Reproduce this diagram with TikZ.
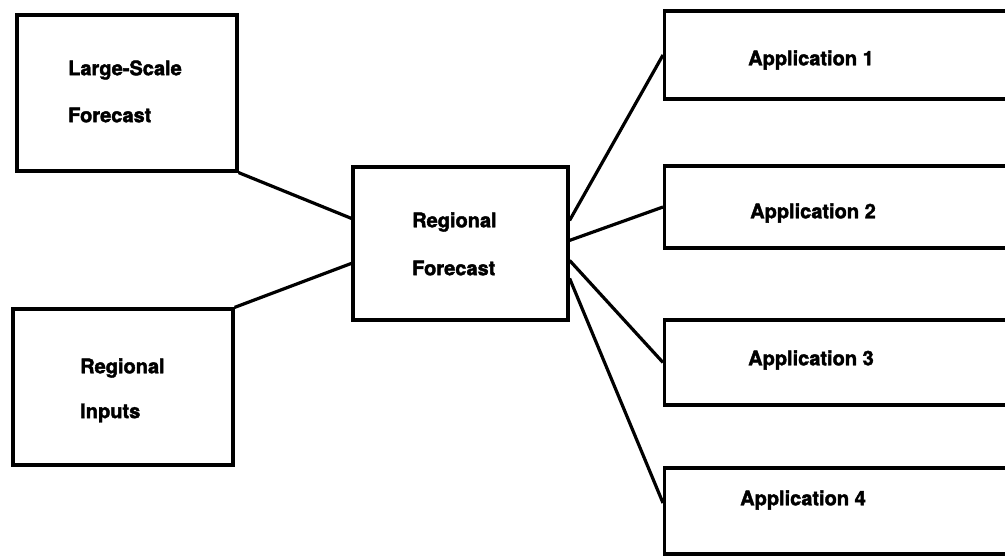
\documentclass[tikz,border=0pt]{standalone}
\usepackage{fontspec}
\setmainfont{TeX Gyre Heros}
\newfontfamily\heavyfont[UprightFont=*/B,FakeBold=2]{TeX Gyre Heros}
\usetikzlibrary{calc}
\begin{document}
\begin{tikzpicture}[x=1pt,y=-1pt,
  box/.style={draw=black,line width=3.2pt,inner sep=0pt,minimum width=#1},
  lbl/.style={anchor=west,inner sep=0pt,font=\fontsize{20}{23}\heavyfont},
  conn/.style={draw=black,line width=3.2pt}]
\fill[white] (0,0) rectangle (1005,557);
\clip (0,0) rectangle (1005,557);
\useasboundingbox (0,0) rectangle (1005,557);
% boxes
\node[box=220pt,minimum height=156pt] (lsf) at (127,93) {};
\node[box=220pt,minimum height=156pt] (ri) at (123,387) {};
\node[box=215pt,minimum height=153pt] (rf) at (460.5,243.5) {};
\node[box=360pt,minimum height=88pt,anchor=west] (a1) at (663,55) {};
\node[box=360pt,minimum height=82pt,anchor=west] (a2) at (663,207) {};
\node[box=360pt,minimum height=85pt,anchor=west] (a3) at (663,362.5) {};
\node[box=360pt,minimum height=86pt,anchor=west] (a4) at (663,511) {};
% labels
\node[lbl] (t1) at (68,70) {Large-Scale};
\node[lbl] (t2) at (68,115) {Forecast};
\node[lbl] (t3) at (80,368) {Regional};
\node[lbl] (t4) at (80,413) {Inputs};
\node[lbl] (t5) at (412,222) {Regional};
\node[lbl] (t6) at (412,268) {Forecast};
\node[lbl] (t7) at (748,60) {Application 1};
\node[lbl] (t8) at (750,213) {Application 2};
\node[lbl] (t9) at (748,360) {Application 3};
\node[lbl] (t10) at (740,500) {Application 4};
% connectors
\draw[conn] (lsf.south east) -- ($(rf.north west)+(0,53)$);
\draw[conn] (ri.north east) -- ($(rf.north west)+(0,98)$);
\draw[conn] ($(rf.north east)+(0,55)$) -- (a1.west);
\draw[conn] ($(rf.north east)+(0,75)$) -- (a2.west);
\draw[conn] ($(rf.north east)+(0,95)$) -- (a3.west);
\draw[conn] ($(rf.north east)+(0,113)$) -- ($(a4.west)+(0,-8)$);
\end{tikzpicture}
\end{document}
